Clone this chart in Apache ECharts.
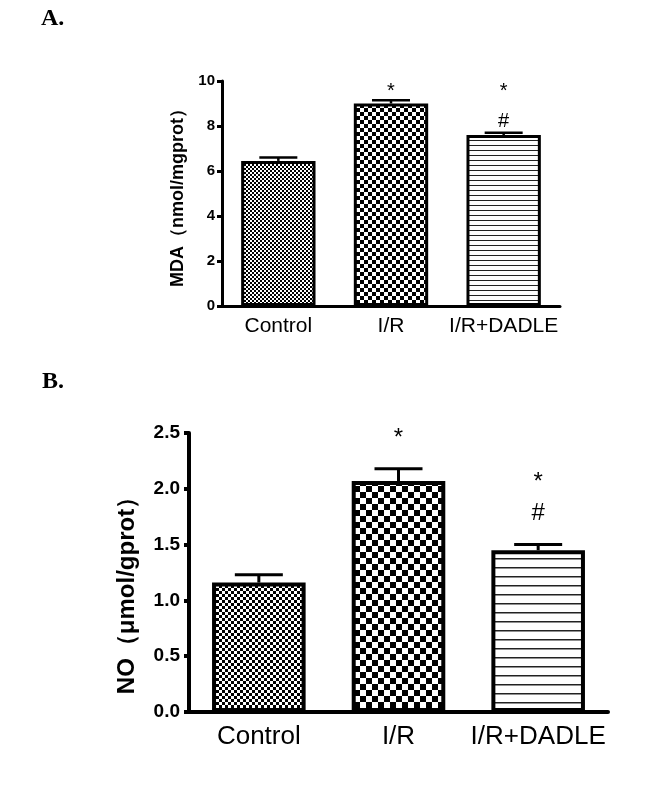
<!DOCTYPE html>
<html><head><meta charset="utf-8">
<script src="https://cdn.jsdelivr.net/npm/echarts@6/dist/echarts.min.js"></script>
<style>html,body{margin:0;padding:0;background:#fff}#c{width:653px;height:795px}</style>
</head><body><div id="c"></div>
<script>
// ---- data ----
const categories = ['Control', 'I/R', 'I/R+DADLE'];
const mdaMean = [6.45, 9.0, 7.6];
const mdaErr = [0.15, 0.15, 0.1];
const mdaTicks = [0, 2, 4, 6, 8, 10];
const noMean = [1.16, 2.07, 1.45];
const noErr = [0.07, 0.11, 0.05];
const noTicks = [0, 0.5, 1.0, 1.5, 2.0, 2.5];
// significance marks: [categoryIndex, symbol, y-value]
const mdaSig = [[1, '*', 9.54], [2, '*', 9.54], [2, '#', 8.22]];
const noSig = [[1, '*', 2.456], [2, '*', 2.061], [2, '#', 1.776]];

// ---- patterns ----
function checker(cell) {
  const c = document.createElement('canvas');
  c.width = c.height = cell * 2;
  const g = c.getContext('2d');
  g.fillStyle = '#fff'; g.fillRect(0, 0, cell * 2, cell * 2);
  g.fillStyle = '#000';
  g.fillRect(0, 0, cell, cell); g.fillRect(cell, cell, cell, cell);
  return { image: c, repeat: 'repeat' };
}
function hlines(spacing, lw) {
  const c = document.createElement('canvas');
  c.width = 8; c.height = spacing;
  const g = c.getContext('2d');
  g.fillStyle = '#fff'; g.fillRect(0, 0, 8, spacing);
  g.fillStyle = '#222'; g.fillRect(0, 0, 8, lw);
  return { image: c, repeat: 'repeat' };
}
const patA = [checker(2), checker(4), hlines(5, 1)];
const patB = [checker(3), checker(6), hlines(9, 1.5)];

const font = 'Arial, "Liberation Sans", sans-serif';

function errRender(capW, lw) {
  return function (params, api) {
    const x = api.value(0), m = api.value(1), e = api.value(2);
    const p0 = api.coord([x, m]);
    const p1 = api.coord([x, m + e]);
    return { type: 'group', children: [
      { type: 'line', shape: { x1: p0[0], y1: p0[1], x2: p1[0], y2: p1[1] }, style: { stroke: '#000', lineWidth: lw } },
      { type: 'line', shape: { x1: p1[0] - capW / 2, y1: p1[1], x2: p1[0] + capW / 2, y2: p1[1] }, style: { stroke: '#000', lineWidth: lw } }
    ] };
  };
}
function sigRender(fs) {
  return function (params, api) {
    const p = api.coord([api.value(0), api.value(2)]);
    const arr = params.seriesIndex === 2 ? mdaSig : noSig;
    return { type: 'text', x: p[0], y: p[1],
      style: { text: arr[params.dataIndex][1], fill: '#000', font: fs + 'px ' + font, align: 'center', verticalAlign: 'middle' } };
  };
}

function xAx(gi, fs, lw, margin) {
  return { type: 'category', gridIndex: gi, data: categories,
    axisLine: { lineStyle: { color: '#000', width: lw } },
    axisTick: { alignWithLabel: true, length: 6, lineStyle: { color: '#000', width: lw } },
    axisLabel: { interval: 0, hideOverlap: false, color: '#000', fontSize: fs, fontFamily: font, margin: margin } };
}
function yAx(gi, ticks, fs, lw, margin, name, nfs, gap, pad, dec) {
  return { type: 'value', gridIndex: gi, min: ticks[0], max: ticks[ticks.length - 1], interval: ticks[1] - ticks[0],
    name: name, nameLocation: 'middle', nameGap: gap, nameRotate: 90,
    nameTextStyle: { color: '#000', fontSize: nfs, fontWeight: 'bold', fontFamily: font, padding: pad },
    splitLine: { show: false },
    axisLine: { show: true, lineStyle: { color: '#000', width: lw } },
    axisTick: { show: true, length: 5, lineStyle: { color: '#000', width: lw } },
    axisLabel: { color: '#000', fontSize: fs, fontWeight: 'bold', fontFamily: font, margin: margin,
      formatter: v => v.toFixed(dec) } };
}

const chart = echarts.init(document.getElementById('c'), null, { renderer: 'canvas' });
chart.setOption({
  animation: false,
  backgroundColor: '#fff',
  title: [
    { text: 'A.', left: 36, top: 2, textStyle: { fontFamily: '"Times New Roman", "Liberation Serif", serif', fontWeight: 'bold', fontSize: 24, color: '#000' } },
    { text: 'B.', left: 37, top: 365, textStyle: { fontFamily: '"Times New Roman", "Liberation Serif", serif', fontWeight: 'bold', fontSize: 24, color: '#000' } }
  ],
  grid: [
    { left: 222, top: 81, width: 338, height: 225 },
    { left: 189, top: 433, width: 419, height: 279 }
  ],
  xAxis: [xAx(0, 21, 3, 10), xAx(1, 26, 4, 12)],
  yAxis: [
    yAx(0, mdaTicks, 15, 3, 7, 'MDA（nmol/mgprot）', 18, 32, 0, 0),
    yAx(1, noTicks, 19, 4, 9, 'NO（μmol/gprot）', 24, 50, [0, 34, 0, 0], 1)
  ],
  series: [
    { type: 'bar', xAxisIndex: 0, yAxisIndex: 0, barWidth: '66%', z: 2,
      data: mdaMean.map((v, i) => ({ value: v, itemStyle: { color: patA[i], borderColor: '#000', borderWidth: 3 } })) },
    { type: 'custom', xAxisIndex: 0, yAxisIndex: 0, z: 3, renderItem: errRender(38, 2.5),
      data: mdaMean.map((v, i) => [i, v, mdaErr[i]]) },
    { type: 'custom', xAxisIndex: 0, yAxisIndex: 0, z: 4, renderItem: sigRender(20),
      data: mdaSig.map(s => [s[0], 0, s[2]]) },
    { type: 'bar', xAxisIndex: 1, yAxisIndex: 1, barWidth: '67%', z: 2,
      data: noMean.map((v, i) => ({ value: v, itemStyle: { color: patB[i], borderColor: '#000', borderWidth: 4 } })) },
    { type: 'custom', xAxisIndex: 1, yAxisIndex: 1, z: 3, renderItem: errRender(48, 3),
      data: noMean.map((v, i) => [i, v, noErr[i]]) },
    { type: 'custom', xAxisIndex: 1, yAxisIndex: 1, z: 4, renderItem: sigRender(24),
      data: noSig.map(s => [s[0], 0, s[2]]) }
  ]
});
</script>
</body></html>
